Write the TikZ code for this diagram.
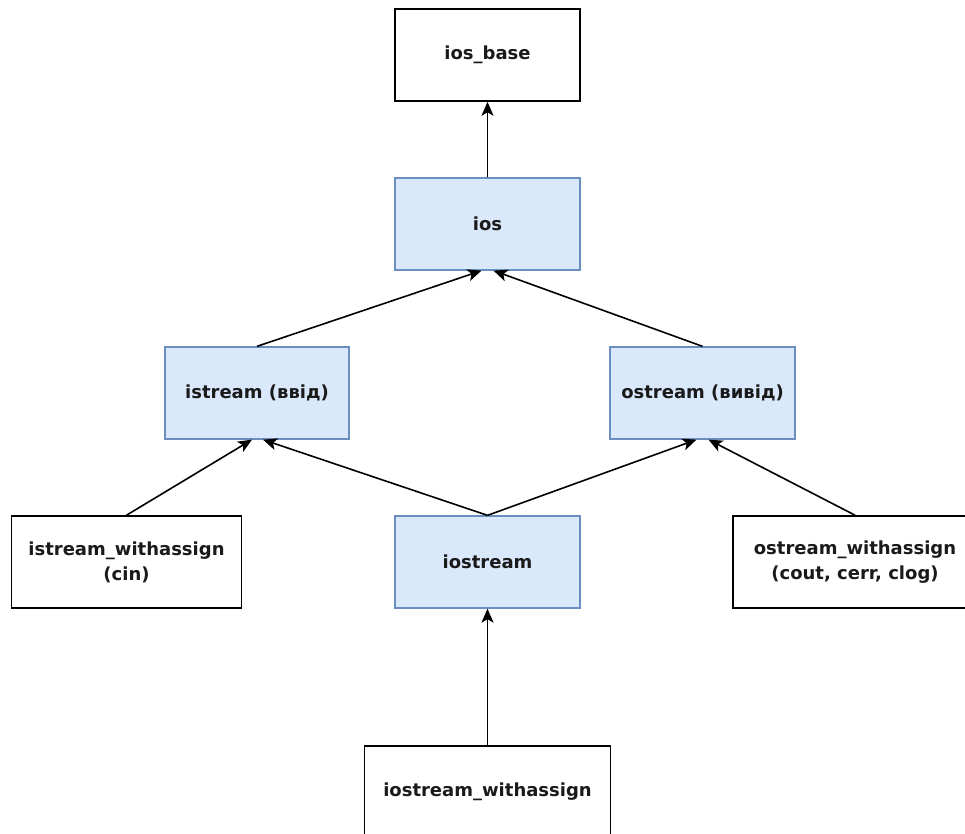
\documentclass[tikz,border=0pt]{standalone}
\usepackage{fontspec}
\setmainfont{DejaVu Sans}
\usetikzlibrary{arrows.meta}
\definecolor{bluefill}{HTML}{DAE8FC}
\definecolor{bluedraw}{HTML}{6C8EBF}
\definecolor{textcol}{HTML}{1A1A1A}
\begin{document}
\begin{tikzpicture}[x=1pt,y=-1pt,
  box/.style={draw=black,fill=white,line width=1.6pt,minimum height=92pt,inner sep=0pt,
    align=center,text=textcol,font=\fontsize{18}{25}\selectfont\bfseries},
  bluebox/.style={box,draw=bluedraw,fill=bluefill,line width=1.3pt},
  link/.style={line width=1.6pt,-{Stealth[length=14pt,width=12pt,inset=3.5pt]}}]
\useasboundingbox (0,0) rectangle (965,834);
\begin{scope}
\clip (0,0) rectangle (965,834);
\node[box,minimum width=185pt] (iosbase) at (487.5,55) {ios\_base};
\node[bluebox,minimum width=185pt] (ios) at (487.5,224) {ios};
\node[bluebox,minimum width=184pt] (istream) at (257,393) {istream (ввід)};
\node[bluebox,minimum width=185pt] (ostream) at (702.5,393) {ostream (вивід)};
\node[box,minimum width=230pt] (istreamwa) at (126.5,562) {istream\_withassign\\(cin)};
\node[bluebox,minimum width=185pt] (iostream) at (487.5,562) {iostream};
\node[box,minimum width=244pt] (ostreamwa) at (855,562) {ostream\_withassign\\(cout, cerr, clog)};
\node[box,minimum width=246pt] (iostreamwa) at (487.5,792) {iostream\_withassign};
\draw[link] (ios.north) -- (iosbase.south);
\draw[link] (istream.north) -- ([xshift=-6pt]ios.south);
\draw[link] (ostream.north) -- ([xshift=6pt]ios.south);
\draw[link] (istreamwa.north) -- ([xshift=-5pt]istream.south);
\draw[link] (iostream.north) -- ([xshift=6pt]istream.south);
\draw[link] (iostream.north) -- ([xshift=-6pt]ostream.south);
\draw[link] (ostreamwa.north) -- ([xshift=6pt]ostream.south);
\draw[link] (iostreamwa.north) -- (iostream.south);
\end{scope}
\end{tikzpicture}
\end{document}
